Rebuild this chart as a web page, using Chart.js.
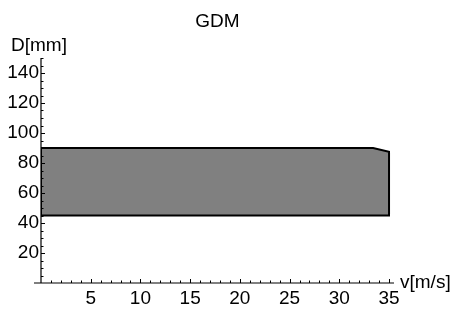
<!DOCTYPE html>
<html><head><meta charset="utf-8">
<script src="https://cdn.jsdelivr.net/npm/chart.js@4.4.0/dist/chart.umd.min.js"></script>
<style>html,body{margin:0;padding:0;background:#fff}#wrap{width:458px;height:309px}</style>
</head><body><div id="wrap"><canvas id="c" width="458" height="309"></canvas></div>
<script>
const chartTitle = 'GDM';
const xLabel = 'v[m/s]';
const yLabel = 'D[mm]';
const speeds = [0, 0, 33.4, 35, 35, 0];
const diameters = [45, 90, 90, 87.5, 45, 45];
const xTicks = [5, 10, 15, 20, 25, 30, 35];
const yTicks = [20, 40, 60, 80, 100, 120, 140];

const FONT = '"Liberation Sans", Arial, sans-serif';
const FS = 19;

const axesPlugin = {
  id: 'mmaAxes',
  afterDraw(chart) {
    const ctx = chart.ctx;
    const xs = chart.scales.x, ys = chart.scales.y;
    const x0 = xs.getPixelForValue(0);
    const y0 = ys.getPixelForValue(0);
    const ca = chart.chartArea;
    ctx.save();
    ctx.strokeStyle = '#000';
    ctx.lineWidth = 1.2;
    ctx.beginPath();
    ctx.moveTo(x0 - 7, y0); ctx.lineTo(ca.right, y0);
    ctx.moveTo(x0, ca.top); ctx.lineTo(x0, y0);
    ctx.stroke();
    ctx.lineWidth = 1;
    ctx.beginPath();
    for (let v = 1; v <= 35; v++) {
      const p = Math.round(xs.getPixelForValue(v)) + 0.5;
      const len = v % 5 === 0 ? 4 : 2.5;
      ctx.moveTo(p, y0); ctx.lineTo(p, y0 - len);
    }
    for (let v = 5; v <= 150; v += 5) {
      const p = Math.round(ys.getPixelForValue(v)) + 0.5;
      const len = v % 20 === 0 ? 4 : 2.5;
      ctx.moveTo(x0, p); ctx.lineTo(x0 + len, p);
    }
    ctx.stroke();
    ctx.fillStyle = '#000';
    ctx.font = FS + 'px ' + FONT;
    ctx.textBaseline = 'alphabetic';
    ctx.textAlign = 'center';
    ctx.fillText(chartTitle, (ca.left + ca.right) / 2, 27);
    ctx.textAlign = 'left';
    ctx.fillText(yLabel, 11, 51);
    ctx.fillText(xLabel, ca.right + 6, 288);
    ctx.restore();
  }
};

new Chart(document.getElementById('c'), {
  type: 'scatter',
  data: {
    datasets: [{
      data: speeds.map((s, i) => ({ x: s, y: diameters[i] })),
      showLine: true,
      fill: 'shape',
      tension: 0,
      pointRadius: 0,
      borderColor: '#000',
      borderWidth: 2,
      backgroundColor: '#808080'
    }]
  },
  options: {
    responsive: false,
    devicePixelRatio: 1,
    animation: false,
    layout: { padding: { top: 58, right: 64, left: 0, bottom: 0 } },
    plugins: { legend: { display: false }, tooltip: { enabled: false }, title: { display: false } },
    scales: {
      x: {
        type: 'linear', min: 0, max: 35.5,
        grid: { display: false, drawTicks: false },
        border: { display: false },
        afterBuildTicks: s => { s.ticks = xTicks.map(v => ({ value: v })); },
        afterFit: s => { s.height = 26; },
        ticks: { color: '#000', font: { family: FONT, size: FS }, padding: 4, maxRotation: 0, autoSkip: false }
      },
      y: {
        type: 'linear', min: 0, max: 150,
        grid: { display: false, drawTicks: false },
        border: { display: false },
        afterBuildTicks: s => { s.ticks = yTicks.map(v => ({ value: v })); },
        afterFit: s => { s.width = 41; },
        ticks: { color: '#000', font: { family: FONT, size: FS }, padding: 2, autoSkip: false }
      }
    }
  },
  plugins: [axesPlugin]
});
</script></body></html>
